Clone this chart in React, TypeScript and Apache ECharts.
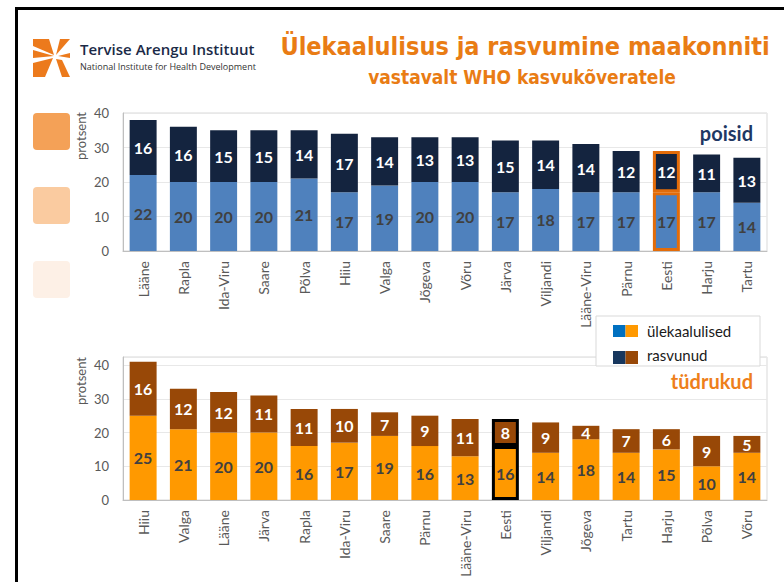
import React, { useEffect, useRef } from "react";
import * as echarts from "echarts";

const boysCats = ["Lääne", "Rapla", "Ida-Viru", "Saare", "Põlva", "Hiiu", "Valga", "Jõgeva", "Võru", "Järva", "Viljandi", "Lääne-Viru", "Pärnu", "Eesti", "Harju", "Tartu"];
const boysOver = [22, 20, 20, 20, 21, 17, 19, 20, 20, 17, 18, 17, 17, 17, 17, 14];
const boysObese = [16, 16, 15, 15, 14, 17, 14, 13, 13, 15, 14, 14, 12, 12, 11, 13];

const girlsCats = ["Hiiu", "Valga", "Lääne", "Järva", "Rapla", "Ida-Viru", "Saare", "Pärnu", "Lääne-Viru", "Eesti", "Viljandi", "Jõgeva", "Tartu", "Harju", "Põlva", "Võru"];
const girlsOver = [25, 21, 20, 20, 16, 17, 19, 16, 13, 16, 14, 18, 14, 15, 10, 14];
const girlsObese = [16, 12, 12, 11, 11, 10, 7, 9, 11, 8, 9, 4, 7, 6, 9, 5];

const yTicksTop = { min: 0, max: 40, interval: 10 };
const yTicksBottom = { min: 0, max: 42.4, interval: 10 };

const FONT = "Lato, 'Noto Sans', sans-serif";
const TFONT = "'DejaVu Sans Condensed', 'DejaVu Sans', sans-serif";

function hl(cats: string[], vals: number[], color: string) {
  return vals.map((v, i) =>
    cats[i] === "Eesti" ? { value: v, itemStyle: { borderColor: color, borderWidth: 3 } } : v
  );
}

export default function App() {
  const ref = useRef<HTMLDivElement>(null);
  useEffect(() => {
    if (!ref.current) return;
    const chart = echarts.init(ref.current, undefined, { renderer: "svg" });
    const lbl = (color: string) => ({
      show: true,
      position: "inside",
      color,
      fontSize: 16,
      fontWeight: "bold",
      fontFamily: FONT,
    });
    const xAx = (idx: number, data: string[]) => ({
      gridIndex: idx,
      type: "category",
      data,
      axisLine: { show: true, lineStyle: { color: "#bfbfbf" } },
      axisTick: { show: false },
      axisLabel: { rotate: 90, margin: 10, fontSize: 14, color: "#595959", fontFamily: FONT, interval: 0 },
    });
    const yAx = (idx: number, t: any) => ({
      gridIndex: idx,
      type: "value",
      min: t.min,
      max: t.max,
      interval: t.interval,
      axisLine: { show: true, lineStyle: { color: "#bfbfbf" } },
      axisTick: { show: false },
      splitLine: { show: true, lineStyle: { color: "#e8e8e8" } },
      axisLabel: { fontSize: 13, color: "#595959", fontFamily: FONT, margin: 14, showMaxLabel: idx === 0 },
    });
    const logo = [
      [[33, 39], [49, 39], [54, 55], [33, 46]],
      [[60, 39], [70, 39], [56, 55]],
      [[33, 50], [54, 56], [33, 58]],
      [[33, 63], [53, 58], [45, 77], [33, 77]],
      [[56, 59], [62, 60], [70, 77], [62, 77]],
      [[58, 56], [70, 53], [70, 58]],
    ];
    const option: any = {
      animation: false,
      backgroundColor: "#ffffff",
      grid: [
        { left: 123, top: 113, width: 644, height: 138, show: true, borderColor: "#d9d9d9", borderWidth: 1 },
        { left: 123, top: 357, width: 644, height: 143, show: true, borderColor: "#d9d9d9", borderWidth: 1 },
      ],
      xAxis: [xAx(0, boysCats), xAx(1, girlsCats)],
      yAxis: [yAx(0, yTicksTop), yAx(1, yTicksBottom)],
      series: [
        {
          type: "bar", xAxisIndex: 0, yAxisIndex: 0, stack: "b", barCategoryGap: "33%",
          data: hl(boysCats, boysOver, "#e36c09"), itemStyle: { color: "#4f81bd" }, label: lbl("#404040"),
        },
        {
          type: "bar", xAxisIndex: 0, yAxisIndex: 0, stack: "b", barCategoryGap: "33%",
          data: hl(boysCats, boysObese, "#e36c09"), itemStyle: { color: "#14243f" }, label: lbl("#ffffff"),
        },
        {
          type: "bar", xAxisIndex: 1, yAxisIndex: 1, stack: "g", barCategoryGap: "33%",
          data: hl(girlsCats, girlsOver, "#000000"), itemStyle: { color: "#ff9900" }, label: lbl("#404040"),
        },
        {
          type: "bar", xAxisIndex: 1, yAxisIndex: 1, stack: "g", barCategoryGap: "33%",
          data: hl(girlsCats, girlsObese, "#000000"), itemStyle: { color: "#984807" }, label: lbl("#ffffff"),
        },
      ],
      graphic: [
        { type: "line", z: 100, shape: { x1: 15, y1: 8.5, x2: 784, y2: 8.5 }, style: { stroke: "#000", lineWidth: 3 } },
        { type: "line", z: 100, shape: { x1: 16.5, y1: 7, x2: 16.5, y2: 582 }, style: { stroke: "#000", lineWidth: 3 } },
        ...logo.map((pts) => ({ type: "polygon", shape: { points: pts }, style: { fill: "#ec7a1c" } })),
        { type: "text", x: 80, y: 49, style: { text: "Tervise Arengu Instituut", fontSize: 15, fontFamily: "'Open Sans', sans-serif", fontWeight: 600, fill: "#1b2a47", textVerticalAlign: "middle" } },
        { type: "text", x: 80, y: 66, style: { text: "National Institute for Health Development", fontSize: 9, fontFamily: "'Open Sans', sans-serif", fill: "#333333", textVerticalAlign: "middle" } },
        { type: "text", x: 525, y: 46, style: { text: "Ülekaalulisus ja rasvumine maakonniti", fontSize: 25, fontWeight: "bold", fontFamily: TFONT, fill: "#e97c14", textAlign: "center", textVerticalAlign: "middle" } },
        { type: "text", x: 522, y: 77, style: { text: "vastavalt WHO kasvukõveratele", fontSize: 19, fontWeight: "bold", fontFamily: TFONT, fill: "#e97c14", textAlign: "center", textVerticalAlign: "middle" } },
        { type: "rect", shape: { x: 33, y: 113, width: 37, height: 37, r: 4 }, style: { fill: "#f4a157" } },
        { type: "rect", shape: { x: 33, y: 187, width: 37, height: 37, r: 4 }, style: { fill: "#facba0" } },
        { type: "rect", shape: { x: 33, y: 261, width: 37, height: 37, r: 4 }, style: { fill: "#fdf0e6" } },
        { type: "text", x: 81, y: 136, rotation: Math.PI / 2, style: { text: "protsent", fontSize: 13, fontFamily: FONT, fill: "#595959", textAlign: "center", textVerticalAlign: "middle" } },
        { type: "text", x: 81, y: 381, rotation: Math.PI / 2, style: { text: "protsent", fontSize: 13, fontFamily: FONT, fill: "#595959", textAlign: "center", textVerticalAlign: "middle" } },
        { type: "text", x: 753, y: 133, style: { text: "poisid", fontSize: 20, fontWeight: "bold", fontFamily: FONT, fill: "#1f3864", textAlign: "right", textVerticalAlign: "middle" } },
        { type: "text", x: 753, y: 381, style: { text: "tüdrukud", fontSize: 20, fontWeight: "bold", fontFamily: FONT, fill: "#ee7f1b", textAlign: "right", textVerticalAlign: "middle" } },
        { type: "rect", z: 100, shape: { x: 596, y: 316, width: 164, height: 50 }, style: { fill: "#ffffff", stroke: "#d9d9d9", lineWidth: 1 } },
        { type: "rect", z: 101, shape: { x: 613, y: 325, width: 12.5, height: 12 }, style: { fill: "#0070c0" } },
        { type: "rect", z: 101, shape: { x: 625.5, y: 325, width: 12.5, height: 12 }, style: { fill: "#ff9900" } },
        { type: "rect", z: 101, shape: { x: 613, y: 351, width: 12.5, height: 13 }, style: { fill: "#17375e" } },
        { type: "rect", z: 101, shape: { x: 625.5, y: 351, width: 12.5, height: 13 }, style: { fill: "#984807" } },
        { type: "text", z: 101, x: 647, y: 331, style: { text: "ülekaalulised", fontSize: 15, fontFamily: FONT, fill: "#1a1a1a", textVerticalAlign: "middle" } },
        { type: "text", z: 101, x: 647, y: 355, style: { text: "rasvunud", fontSize: 15, fontFamily: FONT, fill: "#1a1a1a", textVerticalAlign: "middle" } },
      ],
    };
    chart.setOption(option);
    return () => chart.dispose();
  }, []);
  return <div ref={ref} style={{ position: "absolute", left: 0, top: 0, width: 784, height: 582 }} />;
}
